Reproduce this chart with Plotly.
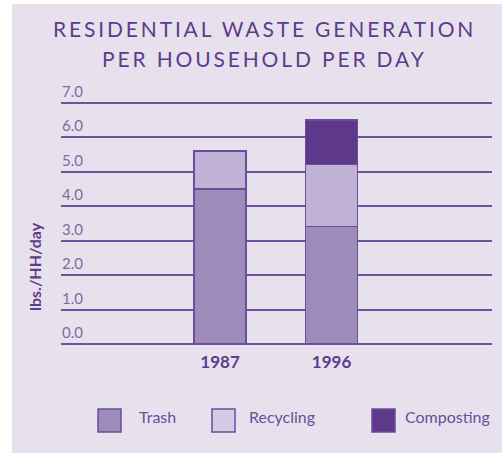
import plotly.graph_objects as go

years = ["1987", "1996"]
series_names = ["Trash", "Recycling", "Composting"]
trash = [4.5, 3.4]
recycling = [1.1, 1.8]
composting = [0.0, 1.3]
y_ticks = [0, 1, 2, 3, 4, 5, 6, 7]

title_lines = ["RESIDENTIAL WASTE GENERATION", "PER HOUSEHOLD PER DAY"]
y_title = "lbs./HH/day"

bar_colors = ["#9D8BBA", "#C0B2D5", "#5E388A"]
legend_colors = ["#9D8BBA", "#D5CCE3", "#5E388A"]
edge = "#6B4C9D"
dark = "#5F3B8B"
tick_col = "#7D6BA2"
panel = "#E7E1EE"

fig = go.Figure()
for name, vals, col in zip(series_names, [trash, recycling, composting], bar_colors):
    fig.add_trace(go.Bar(
        x=years, y=vals, name=name, width=0.466,
        marker=dict(color=col, line=dict(color=edge, width=1.5)),
        showlegend=False,
    ))

W, H = 502, 453
L, R, T, B = 61, 10, 75, 109
pw, ph = W - L - R, H - T - B

def px2paper_x(px):
    return (px - L) / pw

def px2paper_y(py):
    return (H - B - py) / ph

# background panel
fig.add_shape(type="rect", xref="paper", yref="paper",
              x0=px2paper_x(12), x1=px2paper_x(503),
              y0=px2paper_y(454), y1=px2paper_y(4),
              fillcolor=panel, line=dict(width=0), layer="below")

# legend
leg_sq_x = [98, 212, 372]
leg_tx_x = [137, 247, 403]
for name, col, sx, tx in zip(series_names, legend_colors, leg_sq_x, leg_tx_x):
    fig.add_shape(type="rect", xref="paper", yref="paper",
                  x0=px2paper_x(sx), x1=px2paper_x(sx + 23),
                  y0=px2paper_y(432), y1=px2paper_y(409),
                  fillcolor=col, line=dict(color=edge, width=1.5))
    fig.add_annotation(text=name, xref="paper", yref="paper",
                       x=px2paper_x(tx), y=px2paper_y(417),
                       xanchor="left", yanchor="middle", showarrow=False,
                       font=dict(family="Lato", size=16, color="#6A4E98"))

fig.add_annotation(text=y_title, xref="paper", yref="paper",
                   x=px2paper_x(34), y=px2paper_y(267), textangle=-90,
                   xanchor="center", yanchor="middle", showarrow=False,
                   font=dict(family="Lato", size=16, color=dark, weight="bold"))

ls = "letter-spacing:2.85px"
for line, yc in zip(title_lines, [28.5, 58.5]):
    fig.add_annotation(text=f"<span style='{ls}'>{line}</span>", xref="paper", yref="paper",
                       x=px2paper_x(264), y=px2paper_y(yc),
                       xanchor="center", yanchor="middle", showarrow=False,
                       font=dict(family="Lato", size=21, color=dark))

fig.update_layout(
    width=W, height=H,
    margin=dict(l=L, r=R, t=T, b=B, pad=0),
    paper_bgcolor="white", plot_bgcolor="rgba(0,0,0,0)",
    barmode="stack",
    xaxis=dict(type="category", range=[-1.426, 2.439], showgrid=False,
               showline=False, zeroline=False, ticks="", ticklabelstandoff=6,
               tickfont=dict(family="Lato", size=17, color=dark, weight="bold")),
    yaxis=dict(range=[0, 7.8], tickvals=y_ticks, tickformat=".1f",
               showgrid=True, gridcolor="#6E519E", gridwidth=1.6,
               zeroline=True, zerolinecolor="#6E519E", zerolinewidth=1.6,
               showline=False, ticks="",
               ticklabelposition="inside", ticklabelshift=-11, ticklabelstandoff=-2,
               tickfont=dict(family="Lato", size=15, color=tick_col)),
)

fig.write_html("out.html", post_script="document.body.style.margin='0';",
               config={"displayModeBar": False})
